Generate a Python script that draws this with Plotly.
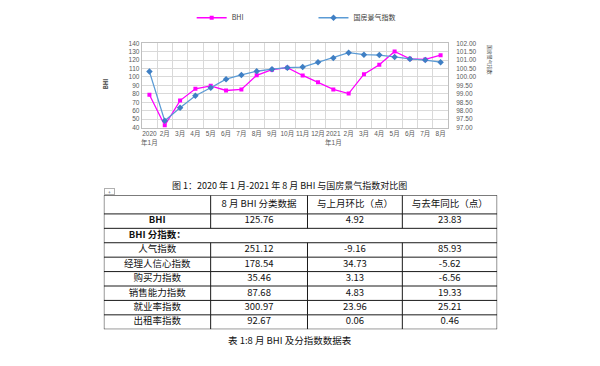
import plotly.graph_objects as go

W, H = 600, 366

# ---------------- data ----------------
months = ["2020<br>年1月", "2月", "3月", "4月", "5月", "6月", "7月", "8月", "9月", "10月",
          "11月", "12月", "2021<br>年1月", "2月", "3月", "4月", "5月", "6月", "7月", "8月"]
bhi = [79.0, 42.5, 72.0, 86.0, 89.5, 84.0, 85.2, 101.93, 108.7, 111.0,
       101.8, 93.7, 85.2, 80.3, 103.3, 114.5, 130.3, 121.5, 120.84, 125.76]
gf_index = [100.32, 97.40, 98.18, 98.89, 99.36, 99.87, 100.12, 100.34, 100.46, 100.55,
            100.59, 100.88, 101.13, 101.44, 101.32, 101.30, 101.19, 101.07, 101.00, 100.88]

table_header = ["", "8 月 BHI 分类数据", "与上月环比（点）", "与去年同比（点）"]
row_names = ["<b>BHI</b>", "<b>BHI 分指数：</b>", "人气指数", "经理人信心指数", "购买力指数",
             "销售能力指数", "就业率指数", "出租率指数"]
aug_values = ["125.76", "", "251.12", "178.54", "35.46", "87.68", "300.97", "92.67"]
mom_change = ["4.92", "", "-9.16", "34.73", "3.13", "4.83", "23.96", "0.06"]
yoy_change = ["23.83", "", "85.93", "-5.62", "-6.56", "19.33", "25.21", "0.46"]
merged_rows = [1]  # "BHI 分指数：" spans the whole table width

chart_caption = "图 1：2020 年 1 月-2021 年 8 月 BHI 与国房景气指数对比图"
table_caption = "表 1:8 月 BHI 及分指数数据表"

# ---------------- layout constants ----------------
def px(x):
    return x / W

def py(y):
    return 1 - y / H

FONT = "Noto Sans CJK SC"
TICK_FONT = "Liberation Sans, Noto Sans CJK SC"
x_idx = list(range(len(months)))

col_widths = [107, 97, 95, 95]
header_h = 19
row_h = 14.7
TABLE_LEFT, TABLE_TOP = 103, 195

x_edges = [0]
for w_ in col_widths:
    x_edges.append(x_edges[-1] + w_)
row_heights = [header_h] + [row_h] * len(row_names)
y_edges = [0]
for h_ in row_heights:
    y_edges.append(y_edges[-1] + h_)
table_w, table_h = x_edges[-1], y_edges[-1]

fig = go.Figure()

# ---------------- chart ----------------
fig.add_trace(go.Scatter(
    x=x_idx, y=bhi, name="BHI", mode="lines+markers",
    line=dict(color="#FF00FF", width=1.3),
    marker=dict(symbol="square", size=4, color="#FF00FF"),
    legend="legend",
))
fig.add_trace(go.Scatter(
    x=x_idx, y=gf_index, name="国房景气指数", mode="lines+markers", yaxis="y2",
    line=dict(color="#5B9BD5", width=1.3),
    marker=dict(symbol="diamond", size=5, color="#3F7FC4"),
    legend="legend2",
))

# ---------------- table (drawn on its own axes) ----------------
body_cols = [row_names, aug_values, mom_change, yoy_change]
tx, ty, tt = [], [], []
for c in range(len(col_widths)):
    cx = (x_edges[c] + x_edges[c + 1]) / 2
    cells = [table_header[c]] + body_cols[c]
    for r, txt in enumerate(cells):
        if txt == "":
            continue
        tx.append(cx)
        ty.append((y_edges[r] + y_edges[r + 1]) / 2)
        tt.append(txt)

fig.add_trace(go.Scatter(
    x=tx, y=ty, text=tt, mode="text", xaxis="x3", yaxis="y3",
    textposition="middle center",
    textfont=dict(family=FONT, size=9.5, color="#111111"),
    showlegend=False, hoverinfo="skip",
))

line_style = dict(color="#1a1a1a", width=1)
for ye in y_edges:
    fig.add_shape(type="line", xref="x3", yref="y3", x0=0, x1=table_w, y0=ye, y1=ye,
                  line=line_style)
for ci, xe in enumerate(x_edges):
    outer = ci in (0, len(x_edges) - 1)
    for r in range(len(row_heights)):
        body_r = r - 1
        if not outer and body_r in merged_rows:
            continue
        fig.add_shape(type="line", xref="x3", yref="y3", x0=xe, x1=xe,
                      y0=y_edges[r], y1=y_edges[r + 1], line=line_style)
fig.add_shape(type="line", xref="x3", yref="y3", x0=table_w + 1.2, x1=table_w + 1.2,
              y0=0, y1=table_h, line=dict(color="#9a9a9a", width=1.2))

tickfont = dict(family=TICK_FONT, size=6.5, color="#595959")

fig.update_layout(
    width=W, height=H,
    margin=dict(l=0, r=0, t=0, b=0),
    paper_bgcolor="white", plot_bgcolor="white",
    font=dict(family=FONT, color="#404040"),
    xaxis=dict(
        domain=[px(141), px(448)],
        range=[-0.5, len(months) - 0.5],
        tickmode="array", tickvals=x_idx, ticktext=months, tickangle=0,
        showgrid=False, zeroline=False, ticks="",
        tickfont=tickfont,
        showline=True, linecolor="#bfbfbf", linewidth=1, mirror=True,
        minor=dict(tick0=0.5, dtick=1, showgrid=True, gridcolor="#d9d9d9", gridwidth=1),
    ),
    yaxis=dict(
        domain=[py(126), py(40)],
        range=[40, 140], dtick=10,
        showgrid=True, gridcolor="#d9d9d9", zeroline=False,
        tickfont=tickfont, ticks="",
        showline=True, linecolor="#bfbfbf", mirror=True,
    ),
    yaxis2=dict(
        overlaying="y", side="right", anchor="x",
        range=[97, 102], dtick=0.5, tickformat=".2f",
        showgrid=False, zeroline=False, ticks="",
        tickfont=tickfont, ticklabelstandoff=7,
    ),
    xaxis3=dict(
        domain=[px(TABLE_LEFT), px(TABLE_LEFT + table_w)],
        range=[0, table_w], visible=False, anchor="y3", fixedrange=True,
    ),
    yaxis3=dict(
        domain=[py(TABLE_TOP + table_h), py(TABLE_TOP)],
        range=[table_h, 0], visible=False, anchor="x3", fixedrange=True,
    ),
    legend=dict(
        x=px(191), y=py(14), xanchor="left", yanchor="middle",
        orientation="h", font=dict(family=FONT, size=7, color="#404040"),
        bgcolor="rgba(0,0,0,0)", itemwidth=30,
    ),
    legend2=dict(
        x=px(313), y=py(14), xanchor="left", yanchor="middle",
        orientation="h", font=dict(family=FONT, size=7, color="#404040"),
        bgcolor="rgba(0,0,0,0)", itemwidth=30,
    ),
    showlegend=True,
)

def note(x, y, text, size, color="#111111", angle=0, **kw):
    fig.add_annotation(x=px(x), y=py(y), xref="paper", yref="paper", text=text,
                       textangle=angle, showarrow=False, xanchor="center", yanchor="middle",
                       font=dict(family=FONT, size=size, color=color), **kw)

note(105, 81, "<b>BHI</b>", 6, "#404040", -90)
note(490, 57, "国房景气指数", 5, "#404040", 90)
note(289, 185, chart_caption, 9)
note(289, 343, table_caption, 9.5)
note(108.5, 191, "+", 5, "#555555", bordercolor="#b0b0b0", borderwidth=1, borderpad=0,
     width=9, height=5)

# the page's default 8px body margin would shift the figure; remove it
fig.write_html("out.html", config={"displayModeBar": False},
               post_script="document.body.style.margin='0px';")
